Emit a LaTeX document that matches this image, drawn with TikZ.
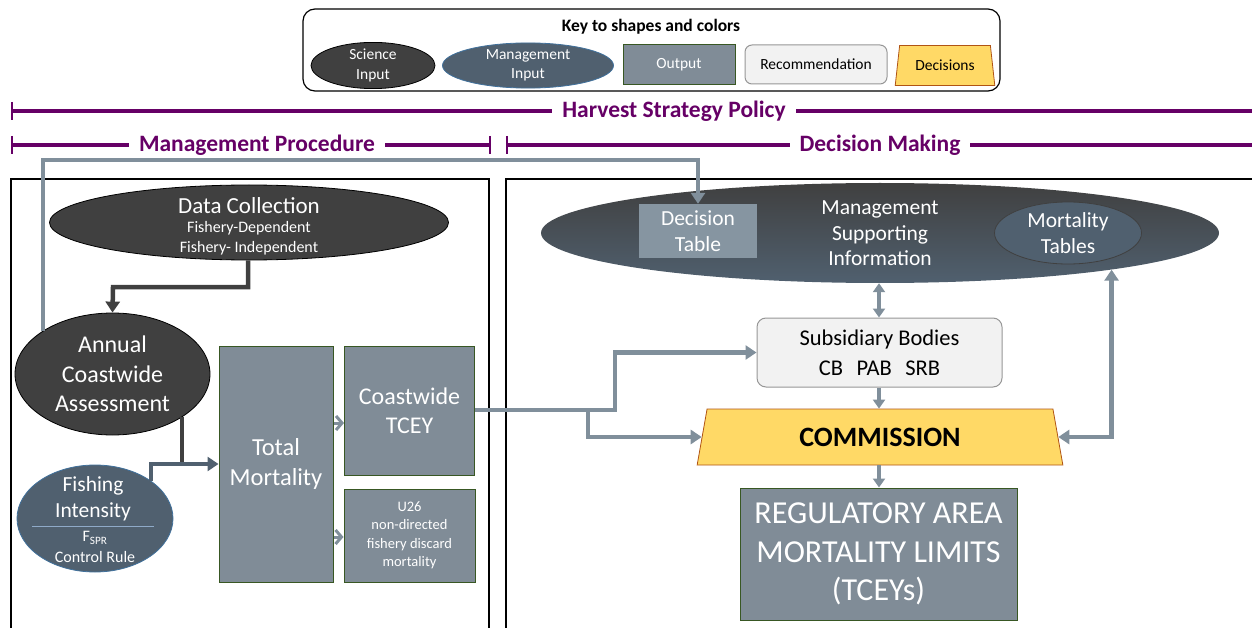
\documentclass[tikz,border=0pt]{standalone}
\usepackage{fontspec}
\setmainfont{Carlito}
\usetikzlibrary{shapes.geometric,arrows.meta,calc}
\definecolor{scic}{RGB}{64,64,64}
\definecolor{mgmtc}{RGB}{80,96,111}
\definecolor{mgmtb}{RGB}{65,113,156}
\definecolor{outc}{RGB}{128,140,151}
\definecolor{outb}{RGB}{56,87,35}
\definecolor{recf}{RGB}{242,242,242}
\definecolor{recb}{RGB}{150,150,150}
\definecolor{decf}{RGB}{255,217,102}
\definecolor{decb}{RGB}{176,84,20}
\definecolor{arrc}{RGB}{128,143,155}
\definecolor{purp}{RGB}{102,0,102}
\definecolor{dtabc}{RGB}{134,149,161}
\definecolor{sepc}{RGB}{143,170,200}
\newcommand{\fs}[2]{\fontsize{#1}{#2}\selectfont}
\begin{document}
\begin{tikzpicture}[x=1pt,y=-1pt,
  sciell/.style={ellipse, draw=black, fill=scic, text=white, inner sep=0pt, align=center, line width=0.8pt},
  mgmtell/.style={ellipse, draw=mgmtb, fill=mgmtc, text=white, inner sep=0pt, align=center, line width=0.8pt},
  outbox/.style={rectangle, draw=outb, fill=outc, text=white, inner sep=0pt, align=center, line width=1pt},
  recbox/.style={rectangle, rounded corners=9pt, draw=recb, fill=recf, inner sep=0pt, align=center, line width=1pt},
  decbox/.style={trapezium, trapezium stretches=true, draw=decb, fill=decf, inner sep=0pt, align=center, line width=0.8pt},
  flow/.style={draw=arrc, line width=4.5pt, -{Triangle[length=11pt,width=14pt]}},
  flowsmall/.style={draw=arrc, line width=4pt, -{Triangle[length=9pt,width=12pt]}},
  darkflow/.style={draw=scic, line width=4.5pt, -{Triangle[length=11pt,width=14pt]}},
  chev/.style={draw=arrc, line width=3pt, -{Straight Barb[length=6pt,width=14pt]}},
  heading/.style={text=purp, font=\bfseries\fs{23.5}{28}, fill=white, inner xsep=10pt, inner ysep=2pt},
  bracket/.style={draw=purp, line width=3.8pt},
  frame/.style={draw=black, line width=2.4pt}
]
\useasboundingbox (0,0) rectangle (1252,628);

% ---------- Key ----------
\node[draw=black, rounded corners=12pt, line width=1.2pt, minimum width=697pt, minimum height=82pt] (key) at (651.5,50) {};
\node[font=\bfseries\fs{17.5}{20}] (keytitle) at (651,27) {Key to shapes and colors};
\node[sciell, minimum width=124pt, minimum height=44pt, font=\fs{15.5}{19.5}] (ksci) at (373,65.5) {Science\\Input};
\node[mgmtell, minimum width=171pt, minimum height=44pt, font=\fs{15.5}{19.5}] (kmgmt) at (528,65.5) {Management\\Input};
\node[outbox, minimum width=112pt, minimum height=40pt, font=\fs{15.5}{19}] (kout) at (679,65) {Output};
\node[recbox, rounded corners=7pt, minimum width=142pt, minimum height=39pt, font=\fs{15.5}{19}, text=black] (krec) at (816,64.5) {Recommendation};
\node[decbox, minimum width=100pt, minimum height=40pt, trapezium left angle=75, trapezium right angle=75, font=\fs{15.5}{19}] (kdec) at (945,65.5) {\raisebox{-3pt}{Decisions}};

% ---------- Headings ----------
\coordinate (hsl) at (12,111);
\coordinate (hsr) at (1252,111);
\draw[bracket] (hsl) -- (hsr);
\draw[bracket, line width=2.5pt] (12,102) -- (12,120);
\node[heading] (hsp) at (674,111) {Harvest Strategy Policy};

\coordinate (mpl) at (12,145);
\coordinate (mpr) at (490,145);
\draw[bracket] (mpl) -- (mpr);
\draw[bracket, line width=2.5pt] (12,136) -- (12,154);
\draw[bracket, line width=2.5pt] (490,136) -- (490,154);
\node[heading] (mp) at (257,145) {Management Procedure};

\coordinate (dml) at (507,145);
\coordinate (dmr) at (1252,145);
\draw[bracket] (dml) -- (dmr);
\draw[bracket, line width=2.5pt] (507,136) -- (507,154);
\node[heading] (dm) at (880,145) {Decision Making};

% ---------- Frames ----------
\draw[frame] (11,630) -- (11,179) -- (489,179) -- (489,630);
\draw[frame] (506,630) -- (506,179) -- (1256,179);

% ---------- Left side ----------
\node[sciell, minimum width=399pt, minimum height=75pt] (dc) at (249,222.5) {};
\node[text=white, align=center, font=\fs{23}{26}] (dct) at (249,206) {Data Collection};
\node[text=white, align=center, font=\fs{16}{20}] (dcs) at (249,238) {Fishery-Dependent\\Fishery- Independent};

\node[sciell, minimum width=195pt, minimum height=122pt, font=\fs{24}{29.5}] (aca) at (112.5,374) {Annual\\Coastwide\\Assessment};

\node[mgmtell, minimum width=156pt, minimum height=107pt] (fi) at (95,518.5) {};
\node[text=white, align=center, font=\fs{21.5}{26}] (fit) at (93,499) {Fishing\\Intensity};
\node[text=white, align=center, font=\fs{16}{21}] (fis) at (95,547) {F\textsubscript{SPR}\\Control Rule};
\coordinate (sepl) at (32,526);
\coordinate (sepr) at (154,526);
\draw[sepc, line width=0.8pt] (sepl) -- (sepr);

\node[outbox, minimum width=114pt, minimum height=236pt, font=\fs{24.5}{30.5}] (tm) at (276,464) {Total\\Mortality};
\node[outbox, minimum width=130pt, minimum height=129pt, font=\fs{24}{29}] (ct) at (409.5,410.5) {Coastwide\\TCEY};
\node[outbox, minimum width=131pt, minimum height=93pt, font=\fs{14.5}{18.5}] (u26) at (409.5,535.5) {U26\\non-directed\\fishery discard\\mortality};

% connectors left
\coordinate (dcbend) at (113,287);
\draw[darkflow] (dc.south -| 248,0) |- (dcbend) -- (aca.north);
\coordinate (jn) at (181,464);
\draw[draw=scic, line width=4.5pt] (aca.-32.4) -- (aca.-32.4 |- jn);
\draw[draw=mgmtc, line width=4.5pt, -{Triangle[length=11pt,width=14pt]}] (fi.34.6) |- (tm.west);
\draw[chev] (tm.east |- 0,423) -- (ct.west |- 0,423);
\draw[chev] (tm.east |- 0,537) -- (u26.west |- 0,537);

% ---------- Right side ----------
\node[ellipse, minimum width=678pt, minimum height=100pt, inner sep=0pt, top color=scic, bottom color=mgmtc, draw=none] (msi) at (880,233) {};
\node[text=white, align=center, font=\fs{21.5}{25.5}] (msit) at (880,233.5) {Management\\Supporting\\Information};
\node[rectangle, fill=dtabc, minimum width=118pt, minimum height=54pt, text=white, align=center, font=\fs{21.5}{26}] (dtab) at (698,231) {Decision\\Table};
\node[mgmtell, draw=scic, minimum width=147pt, minimum height=62pt, font=\fs{21.5}{26}] (mt) at (1068,233) {Mortality\\Tables};

\node[recbox, minimum width=245pt, minimum height=69pt, font=\fs{22.5}{30}, text=black] (sub) at (879.5,352.5) {Subsidiary Bodies\\CB\hspace{0.6em}PAB\hspace{0.6em}SRB};
\node[decbox, minimum width=366pt, minimum height=56pt, trapezium left angle=76, trapezium right angle=76, font=\bfseries\fs{28}{32}] (com) at (880,437) {COMMISSION};
\node[outbox, minimum width=277pt, minimum height=132pt, font=\fs{32}{38.5}] (reg) at (878.5,554) {REGULATORY AREA\\MORTALITY LIMITS\\(TCEYs)};

% connectors right
\coordinate (topline) at (0,160);
\draw[flow] (aca.148) |- (dtab.north |- topline) -- (dtab.north);
\coordinate (up1) at (615,410);
\coordinate (br) at (588,410);
\draw[flow] (ct.east |- up1) -- (up1) |- (sub.west);
\draw[flow] (br) |- (com.left side);
\draw[flowsmall, {Triangle[length=9pt,width=12pt]}-{Triangle[length=9pt,width=12pt]}] (msi.south -| 879,0) -- (sub.north -| 879,0);
\draw[flowsmall] (sub.south -| 879,0) -- (com.north -| 879,0);
\draw[flowsmall] (com.south -| 879,0) -- (reg.north -| 879,0);
\draw[flow, {Triangle[length=11pt,width=14pt]}-{Triangle[length=11pt,width=14pt]}] (msi.-9) |- (com.right side);
\end{tikzpicture}
\end{document}
